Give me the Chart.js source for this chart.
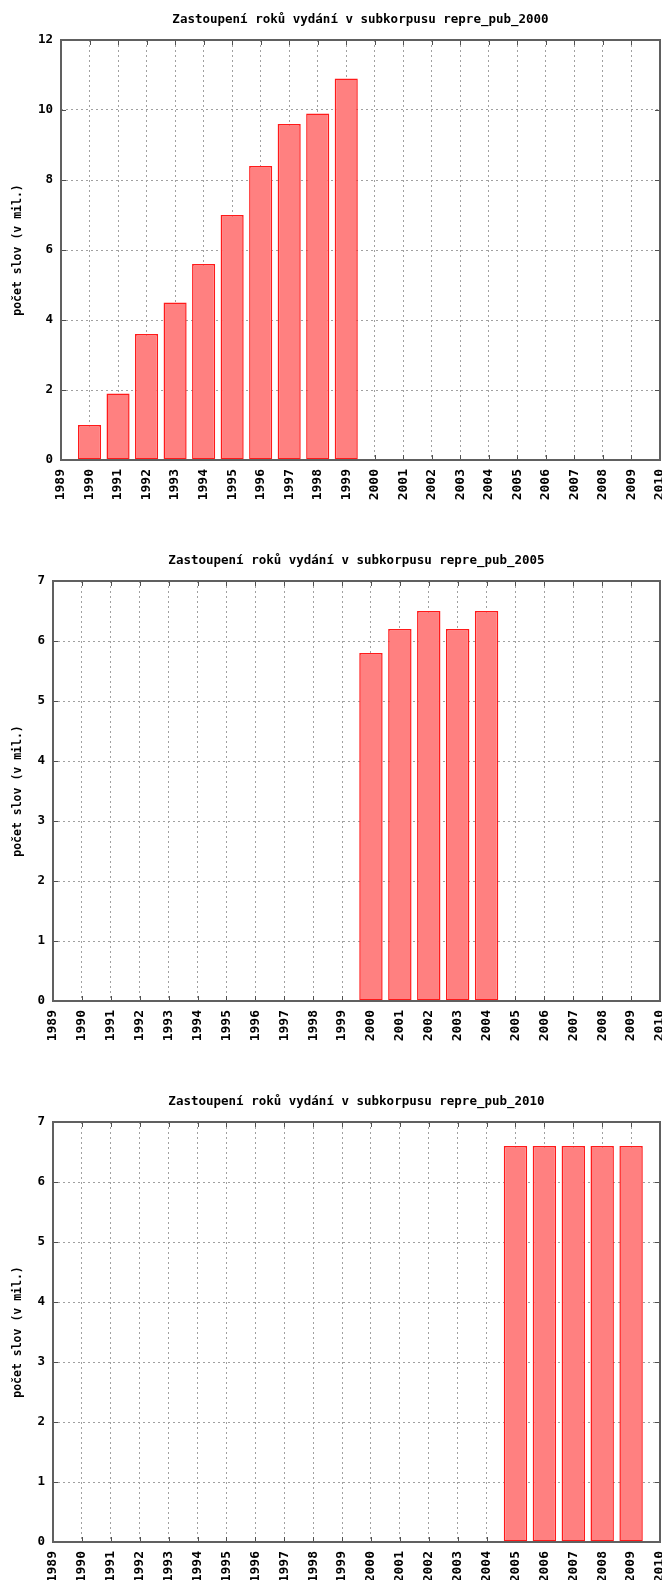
<!DOCTYPE html>
<html>
<head>
<meta charset="utf-8">
<script src="https://cdn.jsdelivr.net/npm/chart.js@4/dist/chart.umd.min.js"></script>
<style>
  html, body { margin: 0; padding: 0; background: #fff; overflow: hidden; }
  .plot { position: absolute; left: 0; width: 662px; height: 541px; }
</style>
</head>
<body>
<div class="plot" style="top:0"><canvas id="c2000" width="662" height="541"></canvas></div>
<div class="plot" style="top:541px"><canvas id="c2005" width="662" height="541"></canvas></div>
<div class="plot" style="top:1082px"><canvas id="c2010" width="662" height="541"></canvas></div>
<script>
// roky na ose x (1989..2010)
const years = ["1989", "1990", "1991", "1992", "1993", "1994", "1995", "1996", "1997", "1998", "1999",
  "2000", "2001", "2002", "2003", "2004", "2005", "2006", "2007", "2008", "2009", "2010"];

// pocet slov v mil. pro kazdy subkorpus
const words2000 = [null, 1.0, 1.9, 3.6, 4.5, 5.6, 7.0, 8.4, 9.6, 9.9, 10.9,
  null, null, null, null, null, null, null, null, null, null, null];
const words2005 = [null, null, null, null, null, null, null, null, null, null, null,
  5.8, 6.2, 6.5, 6.2, 6.5, null, null, null, null, null, null];
const words2010 = [null, null, null, null, null, null, null, null, null, null, null,
  null, null, null, null, null, 6.6, 6.6, 6.6, 6.6, 6.6, null];

const titleBase = "Zastoupení roků vydání v subkorpusu ";
const yTitle = "počet slov (v mil.)";
const MONO = "'DejaVu Sans Mono', monospace";

// ramecek a ticky dovnitr jako v gnuplotu
const frame = {
  id: "frame",
  beforeDatasetsDraw(chart) {
    const { ctx, chartArea: a, scales: { x, y } } = chart;
    ctx.save();
    ctx.strokeStyle = "#505050";
    ctx.lineWidth = 1;
    ctx.beginPath();
    x.ticks.forEach((t, i) => {
      const px = Math.round(x.getPixelForTick(i)) + 0.5;
      ctx.moveTo(px, a.bottom); ctx.lineTo(px, a.bottom - 5);
      ctx.moveTo(px, a.top); ctx.lineTo(px, a.top + 5);
    });
    y.ticks.forEach((t, i) => {
      const py = Math.round(y.getPixelForTick(i)) + 0.5;
      ctx.moveTo(a.left, py); ctx.lineTo(a.left + 5, py);
      ctx.moveTo(a.right, py); ctx.lineTo(a.right - 5, py);
    });
    ctx.stroke();
    ctx.restore();
  },
  afterDatasetsDraw(chart) {
    const { ctx, chartArea: a } = chart;
    ctx.save();
    ctx.strokeStyle = "#606060";
    ctx.lineWidth = 2;
    ctx.strokeRect(a.left, a.top, a.right - a.left, a.bottom - a.top);
    ctx.restore();
  }
};

function makeChart(id, name, values, yMax, yStep, yWidth) {
  new Chart(document.getElementById(id), {
    type: "bar",
    data: {
      labels: years,
      datasets: [{
        data: values,
        backgroundColor: "#ff8080",
        borderColor: "#ff1a1a",
        borderWidth: 1.5,
        borderSkipped: false,
        categoryPercentage: 1,
        barPercentage: 0.81
      }]
    },
    options: {
      responsive: false,
      animation: false,
      devicePixelRatio: 1,
      layout: { padding: { left: 0, right: 2, top: 0, bottom: 0 } },
      plugins: {
        legend: { display: false },
        tooltip: { enabled: false },
        title: {
          display: true,
          text: titleBase + name,
          fullSize: false,
          color: "#000",
          font: { family: MONO, size: 12.5, weight: "bold" },
          padding: { top: 12, bottom: 13 }
        }
      },
      scales: {
        x: {
          offset: false,
          grid: { offset: false, color: "#a0a0a0", lineWidth: 1, drawTicks: false },
          border: { display: false, dash: [2, 3] },
          ticks: {
            autoSkip: false, minRotation: 90, maxRotation: 90, padding: 9,
            color: "#000", font: { family: MONO, size: 13, weight: "bold" }
          },
          afterFit(scale) {
            scale.height = 81;
            scale.paddingLeft = 0;
            scale.paddingRight = 0;
          }
        },
        y: {
          min: 0, max: yMax,
          grid: { color: "#a0a0a0", lineWidth: 1, drawTicks: false },
          border: { display: false, dash: [2, 3] },
          ticks: {
            stepSize: yStep, padding: 8,
            color: "#000", font: { family: MONO, size: 12.5, weight: "bold" }
          },
          title: {
            display: true, text: yTitle, color: "#000",
            font: { family: MONO, size: 11.5, weight: "bold" },
            padding: { top: 11, bottom: 0 }
          },
          afterFit(scale) {
            scale.width = yWidth;
          }
        }
      }
    },
    plugins: [frame]
  });
}

makeChart("c2000", "repre_pub_2000", words2000, 12, 2, 61);
makeChart("c2005", "repre_pub_2005", words2005, 7, 1, 53);
makeChart("c2010", "repre_pub_2010", words2010, 7, 1, 53);
</script>
</body>
</html>
